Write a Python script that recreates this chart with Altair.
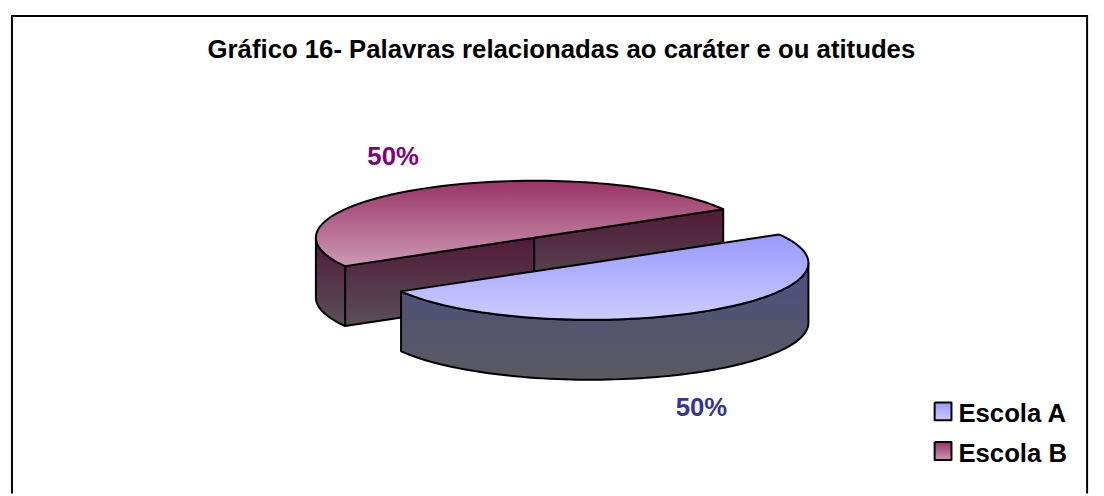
import altair as alt
import numpy as np
import pandas as pd

schools = ["Escola A", "Escola B"]
shares = [50, 50]
label_colors = ["#333399", "#800080"]
top_stops = [["#9999ff", "#ccccff"], ["#993366", "#cc99b3"]]
side_stops = [["#4d4d80", "#5a5a60"], ["#501a35", "#5a5058"]]
title_text = "Gráfico 16- Palavras relacionadas ao caráter e ou atitudes"

W, H = 1096, 488
xs = alt.Scale(domain=[8, 8 + W], range=[0, W], nice=False, zero=False)
ys = alt.Scale(domain=[8, 8 + H], range=[0, H], nice=False, zero=False)
X = lambda f="x": alt.X(f"{f}:Q", scale=xs, axis=None)
Y = lambda f="y": alt.Y(f"{f}:Q", scale=ys, axis=None)
FONT = "Liberation Sans"


def grad(stops):
    return alt.Gradient(
        gradient="linear", x1=0, y1=0, x2=0, y2=1,
        stops=[alt.GradientStop(offset=0, color=stops[0]),
               alt.GradientStop(offset=1, color=stops[1])],
    )


def poly(px, py, stops):
    px, py = list(px), list(py)
    px.append(px[0])
    py.append(py[0])
    df = pd.DataFrame({"x": px, "y": py, "i": range(len(px))})
    return (
        alt.Chart(df)
        .mark_line(fill=grad(stops), stroke="black", strokeWidth=2, strokeJoin="round", clip=False)
        .encode(x=X(), y=Y(), order="i:Q")
    )


A, B, DEPTH = 220.5, 57.5, 60.5
START = 150.0


def ell(cx, cy, t):
    r = np.radians(t)
    return cx + A * np.cos(r), cy + B * np.sin(r)


layers = []

# back slice (Escola B): t from START through the top of the ellipse
cxb, cyb = 536.5, 237.5
sweep_b = 360 * shares[1] / sum(shares)
tb = np.linspace(START, START + sweep_b, 90)
bx, by = ell(cxb, cyb, tb)
# cut faces
layers.append(poly([bx[0], cxb, cxb, bx[0]], [by[0], cyb, cyb + DEPTH, by[0] + DEPTH], side_stops[1]))
layers.append(poly([cxb, bx[-1], bx[-1], cxb], [cyb, by[-1], by[-1] + DEPTH, cyb + DEPTH], side_stops[1]))
# outer left wall
tw = np.linspace(START, 180, 20)
wx, wy = ell(cxb, cyb, tw)
layers.append(poly(list(wx) + list(wx[::-1]), list(wy) + list((wy + DEPTH)[::-1]), side_stops[1]))
# top
layers.append(poly(list(bx) + [cxb], list(by) + [cyb], top_stops[1]))

# front slice (Escola A)
cxa, cya = 593.0, 263.0
sweep_a = 360 * shares[0] / sum(shares)
ta = np.linspace(START + sweep_b, START + sweep_b + sweep_a, 90)
ax, ay = ell(cxa, cya, ta)
tf = np.linspace(0, START, 80)
fx, fy = ell(cxa, cya, tf)
layers.append(poly(list(fx) + list(fx[::-1]), list(fy) + list((fy + DEPTH)[::-1]), side_stops[0]))
layers.append(poly(list(ax) + [cxa], list(ay) + [cya], top_stops[0]))

# frame
frame = pd.DataFrame({"x": [9, 9, 1095, 1095], "y": [496, 13.5, 13.5, 496], "i": [0, 1, 2, 3]})
layers.append(alt.Chart(frame).mark_line(stroke="black", strokeWidth=2).encode(x=X(), y=Y(), order="i:Q"))

# title
layers.append(
    alt.Chart(pd.DataFrame({"x": [564], "y": [48], "t": [title_text]}))
    .mark_text(font=FONT, fontWeight="bold", fontSize=26, color="black", align="center", baseline="middle")
    .encode(x=X(), y=Y(), text="t:N")
)

# percent labels
lab = pd.DataFrame({
    "x": [705.5, 394],
    "y": [410, 156],
    "t": [f"{v}%" for v in shares],
    "c": label_colors,
})
layers.append(
    alt.Chart(lab)
    .mark_text(font=FONT, fontWeight="bold", fontSize=26, align="center", baseline="middle")
    .encode(x=X(), y=Y(), text="t:N", color=alt.Color("c:N", scale=None))
)

# legend
for name, ty, st in zip(schools, [413, 453], top_stops):
    layers.append(poly([941, 958, 958, 941], [ty - 9, ty - 9, ty + 9, ty + 9], st))
    layers.append(
        alt.Chart(pd.DataFrame({"x": [965], "y": [ty + 3], "t": [name]}))
        .mark_text(font=FONT, fontWeight="bold", fontSize=26, color="black", align="left", baseline="middle")
        .encode(x=X(), y=Y(), text="t:N")
    )

chart = (
    alt.layer(*layers)
    .properties(width=W, height=H, padding=0, background="white")
    .configure_view(stroke=None)
)
chart.save("out.html", embed_options={"renderer": "svg", "actions": False})
